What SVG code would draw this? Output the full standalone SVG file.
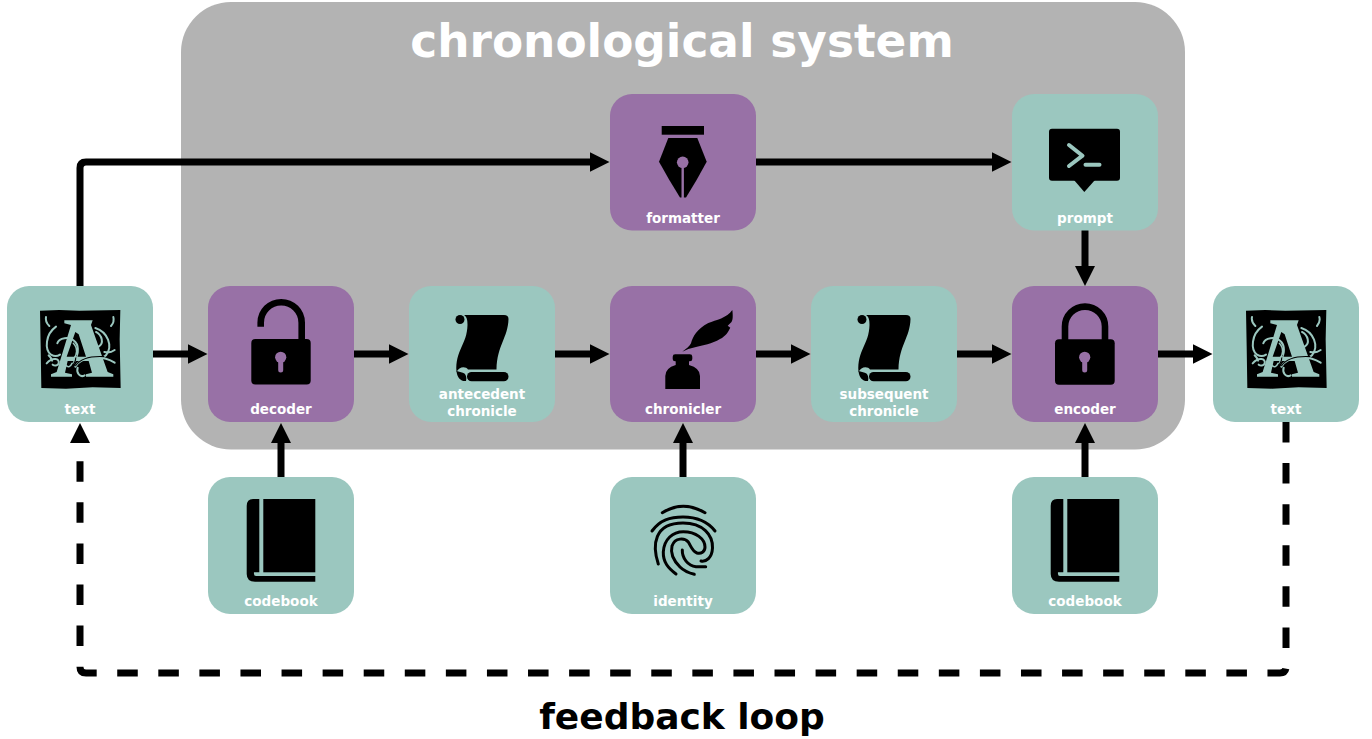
<svg xmlns="http://www.w3.org/2000/svg" width="1372" height="739" viewBox="0 0 1372 739">
<style>
text{font-family:"DejaVu Sans",sans-serif;font-weight:700;text-anchor:middle}
.l{font-size:13.5px;fill:#fff}
.teal{fill:#9bc7bf}.pur{fill:#9871a6}
.c{fill:none;stroke:#000;stroke-width:7;marker-end:url(#a)}
.fp{fill:none;stroke:#000;stroke-width:3;stroke-linecap:round}
.orn{fill:none;stroke:#9bc7bf;stroke-width:6;stroke-linecap:round}
</style>
<defs>
<marker id="a" markerUnits="userSpaceOnUse" markerWidth="20" markerHeight="20" viewBox="0 0 20 20" refX="1" refY="10" orient="auto"><path d="M0,0L20,10L0,20Z"/></marker>
<symbol id="orn" overflow="visible">
<g transform="translate(36,306) scale(.3333)">
<path d="M12,14L70,12L130,14L253,12L251,100L254,246L170,244L90,248L16,246L14,120Z" fill="#000"/>
<path class="orn" d="M30,33Q27,48 40,60M232,33Q236,48 225,60"/>
<path class="orn" d="M60,62C28,85 25,130 45,146C55,152 66,150 72,146"/>
<path class="orn" d="M178,66C215,78 232,120 210,148C204,154 198,156 190,152"/>
<path class="orn" d="M180,78C198,88 205,112 188,122"/>
<path class="orn" d="M64,112C68,96 100,88 118,108C132,124 125,155 112,172"/>
<path class="orn" d="M32,172C50,152 72,158 68,172C66,180 55,180 50,176M38,148Q46,154 48,164"/>
<path class="orn" d="M118,182C135,152 195,145 236,170M125,185C120,200 132,216 146,208M205,138Q222,142 236,132"/>
<path d="M85,43H170L165,57L215,198L232,205V212H150V205L168,200L158,165H95L87,200L108,205V212H45V205L62,198L105,57L85,52Z M118,78L92,152H150L128,85Z" fill="#9bc7bf" fill-rule="evenodd"/>
<path d="M118,180C135,155 170,150 205,152M104,130C125,145 122,165 108,180M122,150C118,135 112,125 108,115" fill="none" stroke="#000" stroke-width="3.500"/>
<path class="orn" style="stroke-width:4.500" d="M112,112C126,126 124,148 112,160M88,176Q100,190 108,172"/>
</g>
</symbol>
<symbol id="scroll" overflow="visible">
<path d="M464,315H504Q508.5,315 508.5,319C508,338 497,345 496.5,369.5H468C466,366 459,366 456.5,372C455,350 467,345 467.5,325C467.5,320 467,317 464,315Z"/>
<circle cx="460" cy="319.5" r="4.5"/>
<rect x="467" y="372" width="41.5" height="9.3" rx="4.6"/>
<path d="M456.5,371C457,378 461,381.5 466,381C467,378 466,373 462,372.5Z"/>
</symbol>
<symbol id="book" overflow="visible">
<rect x="263.3" y="499" width="52" height="73.3"/>
<path d="M259.3,499H253Q246.7,499 246.7,506V574Q246.7,581.7 255,581.7H315.3V576H256Q253.5,576 254,572.3H259.3Z"/>
</symbol>
</defs>
<rect id="system" x="181" y="2" width="1004" height="447.500" rx="50" fill="#b3b3b3"/>
<text x="682" y="57" font-size="45.400" fill="#fff">chronological system</text>
<g id="connectors">
<path class="c" d="M80,286V168Q80,162 86,162H590.500"/>
<path class="c" d="M756,162H992.500"/>
<path class="c" d="M1085,230V267"/>
<path class="c" d="M153,354H188.500"/>
<path class="c" d="M354,354H389.500"/>
<path class="c" d="M555,354H590.500"/>
<path class="c" d="M756,354H791.500"/>
<path class="c" d="M957,354H992.500"/>
<path class="c" d="M1158,354H1193.500"/>
<path class="c" d="M281,477V442"/>
<path class="c" d="M683,477V442"/>
<path class="c" d="M1085,477V442"/>
<path fill="none" stroke="#000" stroke-width="7" stroke-dasharray="20.540 20.540" d="M1286,422V667Q1286,673 1280,673H86Q80,673 80,667V443"/>
<path d="M80,423L90,443H70Z"/>
</g>
<g id="text-in"><rect class="teal" x="7" y="286" width="146" height="136" rx="22"/><use href="#orn"/><text class="l" x="80" y="414">text</text></g>
<g id="decoder"><rect class="pur" x="208" y="286" width="146" height="136" rx="22"/>
<rect x="251.3" y="339" width="59.4" height="45.5" rx="4"/>
<path d="M260.7,326.7V322.7A20.5,20.5 0 0 1 301.7,322.7V340" fill="none" stroke="#000" stroke-width="6.6"/>
<circle class="pur" cx="280.7" cy="357.3" r="5.6"/><path d="M280.7,358V370" stroke="#9871a6" stroke-width="5" stroke-linecap="round"/>
<text class="l" x="281" y="414">decoder</text></g>
<g id="antecedent"><rect class="teal" x="409" y="286" width="146" height="136" rx="22"/><use href="#scroll"/>
<text class="l" x="482" y="399">antecedent</text><text class="l" x="482" y="416">chronicle</text></g>
<g id="chronicler"><rect class="pur" x="610" y="286" width="146" height="136" rx="22"/>
<rect x="672.7" y="354.3" width="19.6" height="7" rx="2.4"/>
<path d="M675.7,361H689V365Q700,368 700,376V389H665.3V376Q665.3,368 675.7,365Z"/>
<path d="M682.3,351.7C686,349 690,346 691,343.3C693,336 697,329 708.3,323C716,320 727,318 732.3,310C733,315 733,320 731.5,322L727.7,325.7L730.3,327.7C728,332 726,336 720,339C712,344 703,345 695,347.3L688.3,349Z"/>
<text class="l" x="683" y="414">chronicler</text></g>
<g id="subsequent"><rect class="teal" x="811" y="286" width="146" height="136" rx="22"/><use href="#scroll" x="402"/>
<text class="l" x="884" y="399">subsequent</text><text class="l" x="884" y="416">chronicle</text></g>
<g id="encoder"><rect class="pur" x="1012" y="286" width="146" height="136" rx="22"/>
<rect x="1055" y="339.3" width="59.7" height="45.5" rx="4"/>
<path d="M1065,341V326.6A20,20 0 0 1 1105,326.6V341" fill="none" stroke="#000" stroke-width="6.6"/>
<circle class="pur" cx="1084.700" cy="357.300" r="5.600"/><path d="M1084.700,358V370" stroke="#9871a6" stroke-width="5" stroke-linecap="round"/>
<text class="l" x="1085" y="414">encoder</text></g>
<g id="text-out"><rect class="teal" x="1213" y="286" width="146" height="136" rx="22"/><use href="#orn" x="1206"/><text class="l" x="1286" y="414">text</text></g>
<g id="formatter"><rect class="pur" x="610" y="94" width="146" height="136.500" rx="22"/>
<rect x="661.700" y="126" width="42.300" height="8.700"/>
<path d="M668.300,138H697.300L706.700,161.700Q697,180 686,197.500H680Q669,180 659,161.700Z"/>
<circle class="pur" cx="682.700" cy="162.300" r="5.800"/><path d="M682.700,165V198" stroke="#9871a6" stroke-width="2.400"/>
<text class="l" x="683" y="223">formatter</text></g>
<g id="prompt"><rect class="teal" x="1012" y="94" width="146" height="136.500" rx="22"/>
<rect x="1049" y="128.700" width="71" height="52" rx="3"/>
<path d="M1074,180L1084.300,192L1095,180Z"/>
<path d="M1069,145L1082.500,155.700L1069,166" fill="none" stroke="#9bc7bf" stroke-width="4" stroke-linecap="round" stroke-linejoin="round"/>
<path d="M1085.500,164.700H1099.500" stroke="#9bc7bf" stroke-width="4" stroke-linecap="round"/>
<text class="l" x="1085" y="223">prompt</text></g>
<g id="codebook-1"><rect class="teal" x="208" y="477" width="146" height="137" rx="22"/><use href="#book"/><text class="l" x="281" y="606">codebook</text></g>
<g id="identity"><rect class="teal" x="610" y="477" width="146" height="137" rx="22"/>
<path class="fp" d="M662.300,512.700Q683,500 705,512.700"/>
<path class="fp" d="M652,531C660,520 670,517 683,517C697,517 708,522 715,531"/>
<path class="fp" d="M658.300,564C652,545 654,523 683,523C703,523 713,535 712.500,548C712,558 706,562 701,561"/>
<path class="fp" d="M676,574C668,568 663,562 663.300,552C664,539 673,531.700 683.300,531.700C696,531.700 705,539 705,547C705,552 701,554 697,553C692,551 691,546 688.300,542C685,538 675,537 672,546C670,554 674,561 680,567C684,571 689,573 694.300,574.300"/>
<path class="fp" d="M682.300,550C682,558 688,566 696,566.700L705.700,566.700"/>
<text class="l" x="683" y="606">identity</text></g>
<g id="codebook-2"><rect class="teal" x="1012" y="477" width="146" height="137" rx="22"/><use href="#book" x="804"/><text class="l" x="1085" y="606">codebook</text></g>
<text x="682" y="729" font-size="36" fill="#000">feedback loop</text>
</svg>
